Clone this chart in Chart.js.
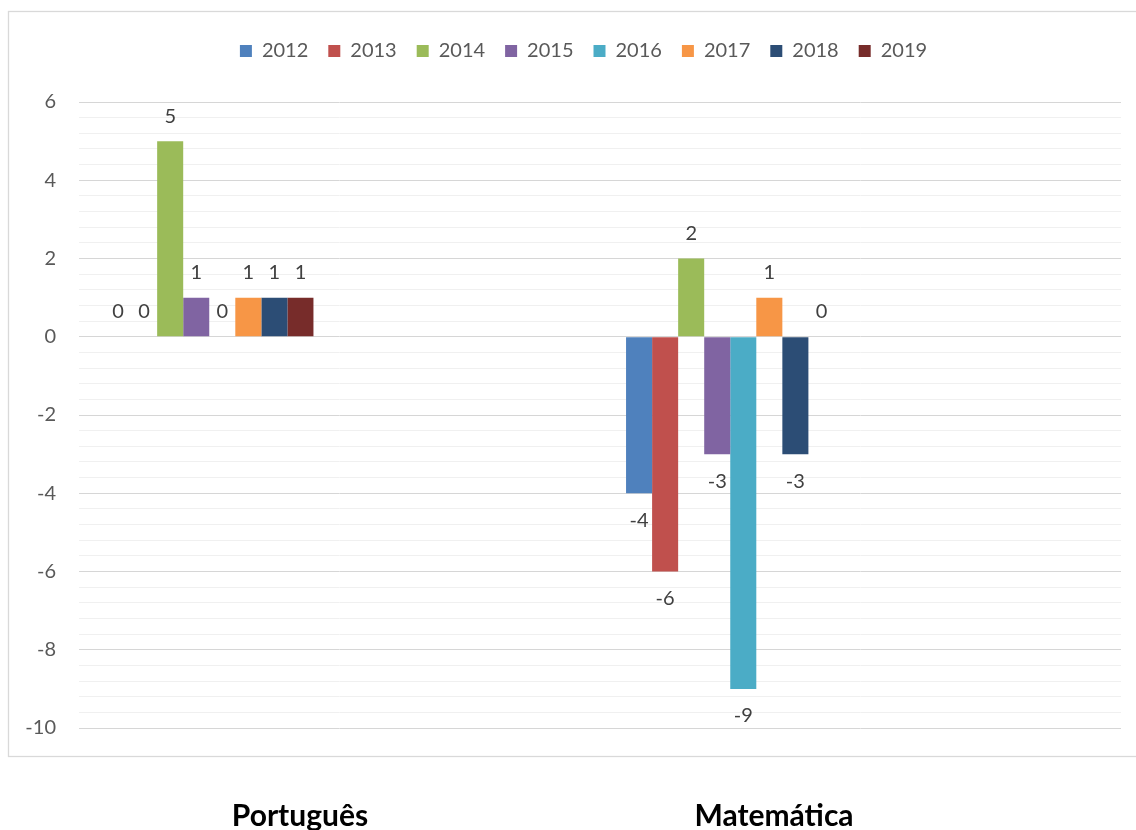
<!DOCTYPE html>
<html>
<head>
<meta charset="utf-8">
<title>Português e Matemática – variação por ano</title>
<script src="https://cdn.jsdelivr.net/npm/chart.js@4.4.1/dist/chart.umd.min.js"></script>
<style>
  html, body { margin: 0; padding: 0; background: #ffffff; }
  #wrap { position: relative; width: 1136px; height: 830px; }
</style>
</head>
<body>
<div id="wrap"><canvas id="chart" width="1136" height="830"></canvas></div>
<script>
// Subjects (each group is followed by an empty slot on the category axis)
const subjects = ['Português', 'Matemática'];
const years = ['2012', '2013', '2014', '2015', '2016', '2017', '2018', '2019'];

// Values per year: [Português, Matemática]
const v2012 = [0, -4];
const v2013 = [0, -6];
const v2014 = [5, 2];
const v2015 = [1, -3];
const v2016 = [0, -9];
const v2017 = [1, 1];
const v2018 = [1, -3];
const v2019 = [1, 0];

const yearColors = ['#4F81BD', '#C0504D', '#9BBB59', '#8064A2', '#4BACC6', '#F79646', '#2C4D75', '#772C2A'];

// Value axis range and label step
const yMin = -10;
const yMax = 6;
const yLabelStep = 2;
const yMinorStep = 0.4;

const seriesValues = [v2012, v2013, v2014, v2015, v2016, v2017, v2018, v2019];

// Category slots: subject, blank, subject, blank
const slots = [];
subjects.forEach(s => { slots.push(s); slots.push(''); });

const datasets = years.map((y, i) => ({
  label: y,
  data: seriesValues[i].flatMap(v => [v, null]),
  backgroundColor: yearColors[i],
  borderWidth: 0
}));

Chart.defaults.font.family = 'Lato, "Open Sans", sans-serif';

function isLabelled(v) {
  const r = Math.round(v);
  return Math.abs(v - r) < 1e-6 && r % yLabelStep === 0;
}

// Empty layout box that keeps space between the legend and the plot;
// the legend row is also nudged so it sits centred inside the frame
const spacerPlugin = {
  id: 'legendSpacer',
  beforeInit(chart) {
    Chart.layouts.addBox(chart, {
      id: 'spacer',
      position: 'top',
      weight: 500,
      fullSize: true,
      options: {},
      isHorizontal() { return true; },
      update(maxWidth) { this.width = maxWidth; this.height = 33; },
      getPadding() { return { left: 0, top: 0, right: 0, bottom: 0 }; },
      draw() {}
    });
  },
  afterLayout(chart) {
    const lg = chart.legend;
    if (lg) {
      lg.left += 23; lg.right += 23;
      lg.top += 2; lg.bottom += 2;
    }
  }
};

// Outer frame and the subject names under it
const framePlugin = {
  id: 'frame',
  beforeDraw(chart) {
    const ctx = chart.ctx;
    ctx.save();
    ctx.fillStyle = '#ffffff';
    ctx.fillRect(0, 0, chart.width, chart.height);
    ctx.strokeStyle = '#d9d9d9';
    ctx.lineWidth = 1.3;
    ctx.strokeRect(8.5, 11.5, chart.width + 10, 745);
    ctx.restore();
  },
  afterDraw(chart) {
    const ctx = chart.ctx;
    ctx.save();
    ctx.fillStyle = '#000000';
    ctx.font = 'bold 30px Lato, sans-serif';
    ctx.textAlign = 'center';
    ctx.textBaseline = 'alphabetic';
    const centers = [300, 774];
    subjects.forEach((s, i) => ctx.fillText(s, centers[i], 826));
    ctx.restore();
  }
};

// Value labels above positive bars and below negative ones
const valueLabelPlugin = {
  id: 'valueLabels',
  afterDatasetsDraw(chart) {
    const ctx = chart.ctx;
    ctx.save();
    ctx.fillStyle = '#404040';
    ctx.font = '20px Lato, sans-serif';
    ctx.textAlign = 'center';
    ctx.textBaseline = 'middle';
    chart.data.datasets.forEach((ds, i) => {
      const meta = chart.getDatasetMeta(i);
      if (meta.hidden) return;
      meta.data.forEach((bar, j) => {
        const v = ds.data[j];
        if (v === null || v === undefined) return;
        const y = v >= 0 ? bar.y - 25 : bar.y + 27;
        ctx.fillText(String(v), bar.x, y);
      });
    });
    ctx.restore();
  }
};

new Chart(document.getElementById('chart'), {
  type: 'bar',
  data: { labels: slots, datasets },
  plugins: [spacerPlugin, framePlugin, valueLabelPlugin],
  options: {
    responsive: false,
    animation: false,
    events: [],
    layout: { padding: { top: 19, left: 0, right: 15, bottom: 102 } },
    datasets: { bar: { categoryPercentage: 0.8, barPercentage: 1.0 } },
    plugins: {
      tooltip: { enabled: false },
      legend: {
        position: 'top',
        labels: {
          boxWidth: 12,
          boxHeight: 12,
          padding: 20,
          color: '#595959',
          font: { size: 20 }
        }
      }
    },
    scales: {
      x: { display: false },
      y: {
        min: yMin,
        max: yMax,
        afterFit(scale) { scale.width = 79; },
        border: { display: false },
        grid: {
          drawTicks: false,
          lineWidth: 1,
          color: c => (c.tick && isLabelled(c.tick.value)) ? '#d6d6d6' : '#f0f0f0'
        },
        ticks: {
          stepSize: yMinorStep,
          autoSkip: false,
          padding: 23,
          color: '#595959',
          font: { size: 20 },
          callback: v => isLabelled(v) ? String(Math.round(v)) : ''
        }
      }
    }
  }
});
</script>
</body>
</html>
